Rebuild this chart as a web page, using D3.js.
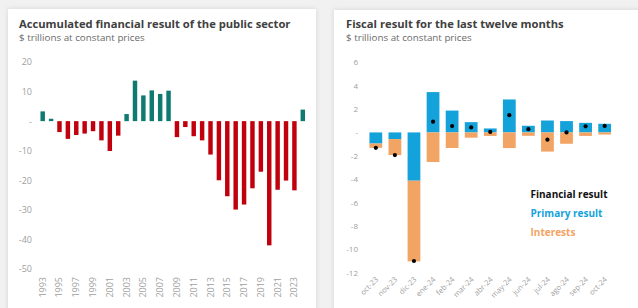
<!DOCTYPE html>
<html>
<head>
<meta charset="utf-8">
<script src="https://cdn.jsdelivr.net/npm/d3@7"></script>
<style>
  html, body { margin: 0; padding: 0; background: #f1f1f1; }
  svg { display: block; }
  text { font-family: "Open Sans", sans-serif; }
</style>
</head>
<body>
<svg id="chart" width="638" height="308"></svg>
<script>
// ---- Data: left chart ----
const years = d3.range(1993, 2025).map(String);
const accumulated = [3.3, 0.8, -3.7, -6.0, -4.7, -4.2, -3.4, -6.5, -10.1, -4.9,
  2.4, 13.7, 8.7, 10.4, 9.2, 10.3, -5.4, -2.0, -5.1, -6.5,
  -11.3, -20.0, -25.4, -29.9, -28.2, -22.7, -17.1, -42.0, -23.2, -20.1, -23.4, 3.9];
const leftTicks = [20, 10, 0, -10, -20, -30, -40, -50];
const yearLabels = years.filter((y, i) => i % 2 === 0);

// ---- Data: right chart ----
const months = ["oct-23", "nov-23", "dic-23", "ene-24", "feb-24", "mar-24", "abr-24",
  "may-24", "jun-24", "jul-24", "ago-24", "sep-24", "oct-24"];
const primary = [-0.95, -0.57, -4.13, 3.45, 1.87, 0.88, 0.34, 2.82, 0.57, 1.02, 0.97, 0.82, 0.74];
const interests = [-0.37, -1.37, -6.9, -2.53, -1.33, -0.45, -0.3, -1.34, -0.29, -1.64, -0.97, -0.3, -0.18];
const financial = [-1.32, -1.94, -11.0, 0.92, 0.54, 0.43, 0.04, 1.48, 0.28, -0.62, 0.0, 0.52, 0.56];
const rightTicks = [6, 4, 2, 0, -2, -4, -6, -8, -10, -12];
const legendItems = ["Financial result", "Primary result", "Interests"];

const C = {
  red: "#c0000c", teal: "#0f7a6f", blue: "#14a2db", orange: "#f2a465",
  title: "#404040", sub: "#6a6a6a", tick: "#a0a0a0"
};

const svg = d3.select("#chart");
const defs = svg.append("defs");
const f = defs.append("filter").attr("id", "sh").attr("x", "-5%").attr("y", "-5%").attr("width", "110%").attr("height", "110%");
f.append("feDropShadow").attr("dx", 0).attr("dy", 0).attr("stdDeviation", 2.5).attr("flood-color", "#000").attr("flood-opacity", 0.12);

// cards
svg.append("rect").attr("x", 8).attr("y", 9).attr("width", 308).attr("height", 310).attr("fill", "#fff").attr("filter", "url(#sh)");
svg.append("rect").attr("x", 334).attr("y", 10).attr("width", 310).attr("height", 310).attr("fill", "#fff").attr("filter", "url(#sh)");

function fmt(d) { return d === 0 ? "-" : String(d); }

// ---------- Left chart ----------
const gL = svg.append("g");
gL.append("text").attr("x", 19).attr("y", 28).attr("font-size", 11.2).attr("font-weight", 700)
  .attr("fill", C.title).text("Accumulated financial result of the public sector");
gL.append("text").attr("x", 19).attr("y", 40.5).attr("font-size", 9.8).attr("fill", C.sub)
  .text("$ trillions at constant prices");

const xL = d3.scaleBand().domain(years).range([38.5, 307]).paddingInner(0.47).paddingOuter(0.235);
const yL = d3.scaleLinear().domain([-50, 20]).range([269, 62]);

const axL = d3.axisLeft(yL).tickValues(leftTicks).tickFormat(fmt).tickSize(0).tickPadding(0);
const gAxL = gL.append("g").attr("transform", "translate(32,0)").call(axL);
gAxL.select(".domain").remove();
gAxL.selectAll("text").attr("font-size", 9).attr("fill", C.tick).attr("font-family", "Open Sans, sans-serif");

gL.selectAll("rect.bar").data(accumulated).join("rect").attr("class", "bar")
  .attr("x", (d, i) => xL(years[i]))
  .attr("width", xL.bandwidth())
  .attr("y", d => yL(Math.max(0, d)))
  .attr("height", d => Math.abs(yL(d) - yL(0)))
  .attr("fill", d => d >= 0 ? C.teal : C.red);

gL.selectAll("text.yr").data(yearLabels).join("text").attr("class", "yr")
  .attr("transform", d => `translate(${xL(d) + xL.bandwidth() / 2 + 3},277) rotate(-90)`)
  .attr("text-anchor", "end").attr("font-size", 9).attr("fill", C.tick).text(d => d);

// ---------- Right chart ----------
const gR = svg.append("g");
gR.append("text").attr("x", 346).attr("y", 28).attr("font-size", 11.2).attr("font-weight", 700)
  .attr("fill", C.title).text("Fiscal result for the last twelve months");
gR.append("text").attr("x", 346).attr("y", 40.5).attr("font-size", 9.8).attr("fill", C.sub)
  .text("$ trillions at constant prices");

const xR = d3.scaleBand().domain(months).range([366.3, 614.2]).paddingInner(0.33).paddingOuter(0.165);
const yR = d3.scaleLinear().domain([-12, 6]).range([272.7, 62.3]);

const axR = d3.axisLeft(yR).tickValues(rightTicks).tickFormat(fmt).tickSize(0).tickPadding(0);
const gAxR = gR.append("g").attr("transform", "translate(358,0)").call(axR);
gAxR.select(".domain").remove();
gAxR.selectAll("text").attr("font-size", 8).attr("fill", C.tick).attr("font-family", "Open Sans, sans-serif");

// primary (from 0)
gR.selectAll("rect.pri").data(primary).join("rect").attr("class", "pri")
  .attr("x", (d, i) => xR(months[i])).attr("width", xR.bandwidth())
  .attr("y", d => yR(Math.max(0, d)))
  .attr("height", d => Math.abs(yR(d) - yR(0)))
  .attr("fill", C.blue);
// interests (stacked below negative primary, otherwise from 0)
gR.selectAll("rect.int").data(interests).join("rect").attr("class", "int")
  .attr("x", (d, i) => xR(months[i])).attr("width", xR.bandwidth())
  .attr("y", (d, i) => yR(Math.min(0, primary[i])))
  .attr("height", (d, i) => { const b = Math.min(0, primary[i]); return Math.abs(yR(b + d) - yR(b)); })
  .attr("fill", C.orange);
// financial result dots
gR.selectAll("circle.fin").data(financial).join("circle").attr("class", "fin")
  .attr("cx", (d, i) => xR(months[i]) + xR.bandwidth() / 2)
  .attr("cy", d => yR(d)).attr("r", 2.1).attr("fill", "#000");

gR.selectAll("text.mo").data(months).join("text").attr("class", "mo")
  .attr("transform", d => `translate(${xR(d) + xR.bandwidth() / 2 + 3},280) rotate(-45)`)
  .attr("text-anchor", "end").attr("font-size", 7.5).attr("fill", C.tick).text(d => d);

// legend
const legColors = ["#111", C.blue, C.orange];
gR.selectAll("text.leg").data(legendItems).join("text").attr("class", "leg")
  .attr("x", 530.5).attr("y", (d, i) => 198 + i * 19)
  .attr("font-size", 10).attr("font-weight", 700)
  .attr("fill", (d, i) => legColors[i]).text(d => d);
</script>
</body>
</html>
